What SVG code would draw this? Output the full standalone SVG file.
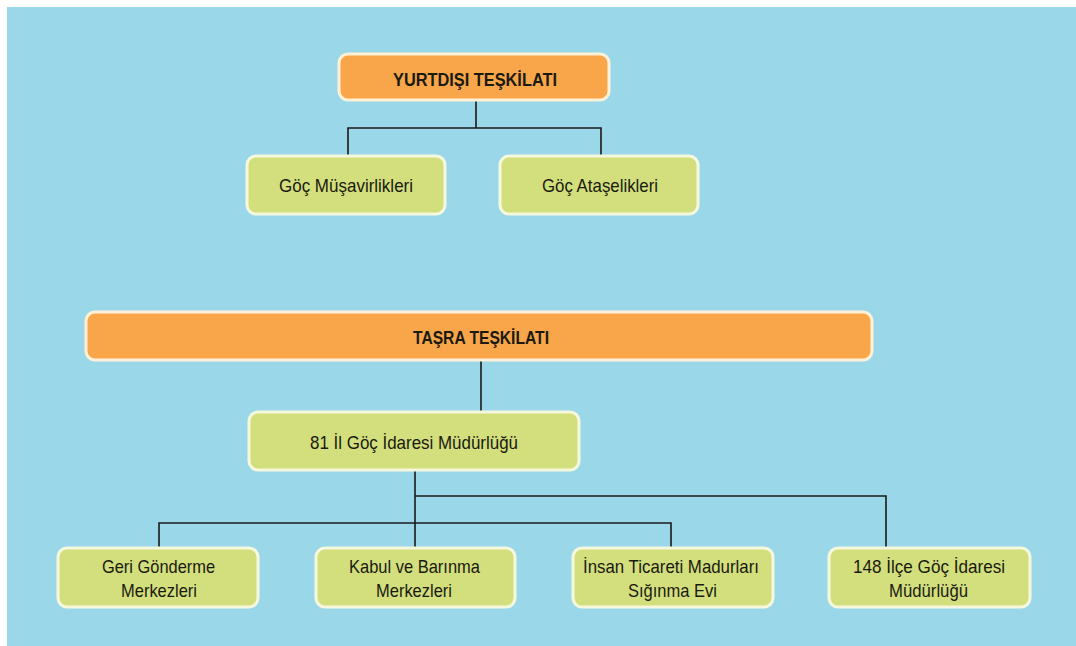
<svg xmlns="http://www.w3.org/2000/svg" width="1076" height="646" viewBox="0 0 1076 646">
<style>
.o{fill:#F9A64A;stroke:#FFF1D8;stroke-width:3}
.g{fill:#D3DF7D;stroke:#F6F8DE;stroke-width:3}
.t{font-family:"Liberation Sans",Arial,sans-serif;font-size:18.5px;fill:#1a1a10;text-anchor:middle}
.b{font-weight:bold;font-size:19px}
#connectors path{fill:none;stroke:#1a1a1a;stroke-width:1.6}
</style>
<rect x="0" y="0" width="1076" height="646" fill="#ffffff"/>
<rect x="7" y="7" width="1069" height="639" fill="#9AD8E9"/>
<g id="connectors">
<path d="M476 101V128M348 156V128H601V156"/>
<path d="M481 361V411"/>
<path d="M415 471V548M415 496H886V548M159 548V523H671V548"/>
</g>
<g id="yurtdisi"><rect class="o" x="339" y="54" width="270" height="46" rx="9"/><text class="t b" x="475" y="86" textLength="164" lengthAdjust="spacingAndGlyphs">YURTDIŞI TEŞKİLATI</text></g>
<g id="musavirlik"><rect class="g" x="247" y="156" width="198" height="58" rx="9"/><text class="t" x="346" y="192" textLength="134" lengthAdjust="spacingAndGlyphs">Göç Müşavirlikleri</text></g>
<g id="atasalik"><rect class="g" x="500" y="156" width="198" height="58" rx="9"/><text class="t" x="600" y="192" textLength="116" lengthAdjust="spacingAndGlyphs">Göç Ataşelikleri</text></g>
<g id="tasra"><rect class="o" x="86" y="312" width="786" height="48" rx="9"/><text class="t b" x="481" y="344" textLength="136" lengthAdjust="spacingAndGlyphs">TAŞRA TEŞKİLATI</text></g>
<g id="il"><rect class="g" x="249" y="412" width="330" height="58" rx="9"/><text class="t" x="414" y="449" textLength="208" lengthAdjust="spacingAndGlyphs">81 İl Göç İdaresi Müdürlüğü</text></g>
<g id="geri"><rect class="g" x="58" y="548" width="200" height="59" rx="9"/><text class="t" x="158.5" y="573" textLength="113" lengthAdjust="spacingAndGlyphs">Geri Gönderme</text><text class="t" x="159" y="597" textLength="76" lengthAdjust="spacingAndGlyphs">Merkezleri</text></g>
<g id="kabul"><rect class="g" x="316" y="548" width="199" height="59" rx="9"/><text class="t" x="414.5" y="573" textLength="131" lengthAdjust="spacingAndGlyphs">Kabul ve Barınma</text><text class="t" x="414" y="597" textLength="76" lengthAdjust="spacingAndGlyphs">Merkezleri</text></g>
<g id="insan"><rect class="g" x="573" y="548" width="200" height="59" rx="9"/><text class="t" x="671" y="573" textLength="176" lengthAdjust="spacingAndGlyphs">İnsan Ticareti Madurları</text><text class="t" x="672.5" y="597" textLength="89" lengthAdjust="spacingAndGlyphs">Sığınma Evi</text></g>
<g id="ilce"><rect class="g" x="829" y="548" width="201" height="59" rx="9"/><text class="t" x="929" y="573" textLength="152" lengthAdjust="spacingAndGlyphs">148 İlçe Göç İdaresi</text><text class="t" x="928.5" y="597" textLength="79" lengthAdjust="spacingAndGlyphs">Müdürlüğü</text></g>
</svg>
